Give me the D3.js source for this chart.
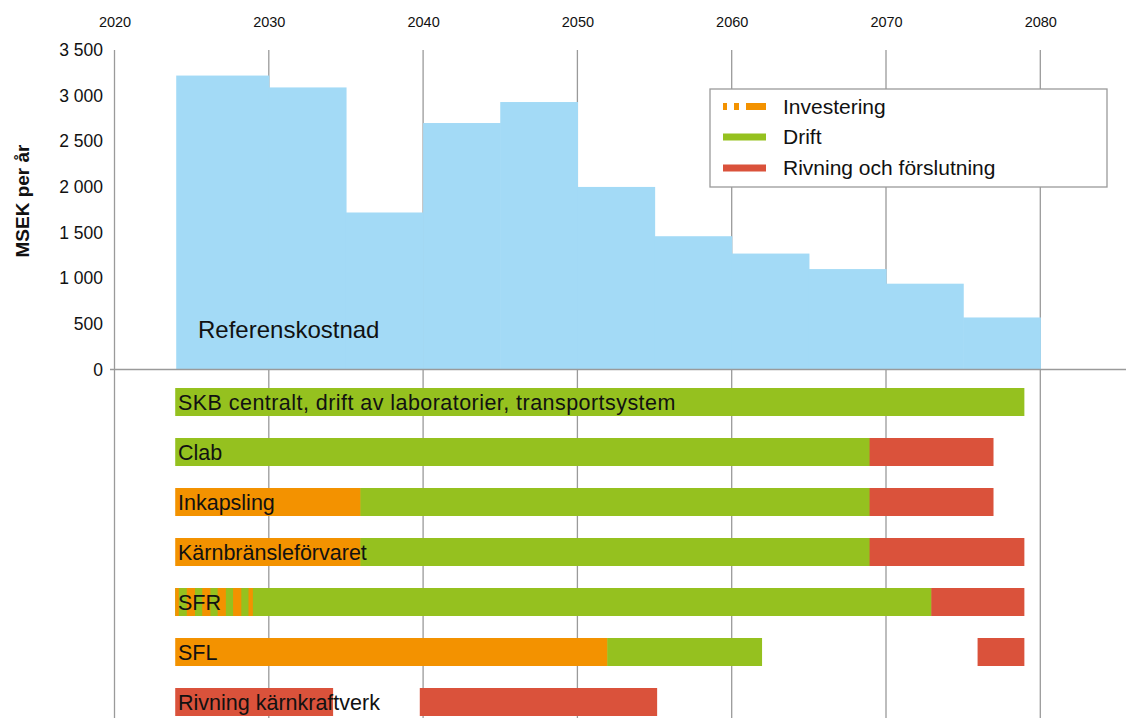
<!DOCTYPE html>
<html><head><meta charset="utf-8">
<script src="https://cdn.jsdelivr.net/npm/d3@7"></script>
<style>
html,body{margin:0;padding:0;background:#fff;}
svg{display:block;font-family:"Liberation Sans",Arial,sans-serif;}
</style></head>
<body>
<svg id="chart" width="1126" height="718"></svg>
<script>
// ---- data ----
const yearTicks = [2020, 2030, 2040, 2050, 2060, 2070, 2080];
const costTicks = [0, 500, 1000, 1500, 2000, 2500, 3000, 3500];
const refFrom = [2024, 2030, 2035, 2040, 2045, 2050, 2055, 2060, 2065, 2070, 2075];
const refTo   = [2030, 2035, 2040, 2045, 2050, 2055, 2060, 2065, 2070, 2075, 2080];
const refCost = [3220, 3090, 1720, 2700, 2930, 2000, 1460, 1270, 1100, 940, 570];

const activities = ["SKB centralt, drift av laboratorier, transportsystem", "Clab", "Inkapsling",
  "Kärnbränsleförvaret", "SFR", "SFL", "Rivning kärnkraftverk"];
const phases = ["Investering", "Drift", "Rivning och förslutning"];
// segments: activity index, from, to, phase index
const segActivity = [0, 1, 1, 2, 2, 2, 3, 3, 3, 4, 4, 4, 4, 4, 4, 4, 4, 5, 5, 5, 6, 6];
const segFrom = [2024, 2024, 2069, 2024, 2036, 2069, 2024, 2036, 2069, 2024, 2073, 2024, 2024.75, 2025.75, 2026.75, 2027.75, 2028.75, 2024, 2052, 2076, 2024, 2039.85];
const segTo   = [2079, 2069, 2077, 2036, 2069, 2077, 2036, 2069, 2079, 2073, 2079, 2024.2, 2025.25, 2026.25, 2027.25, 2028.25, 2029, 2052, 2062, 2079, 2034.2, 2055.2];
const segPhase = [1, 1, 2, 0, 1, 2, 0, 1, 2, 1, 2, 0, 0, 0, 0, 0, 0, 0, 1, 2, 2, 2];

const phaseColors = ["#f39200", "#95c11f", "#da523b"];
const refColor = "#a3daf6";

// ---- layout ----
const svg = d3.select("#chart");
const x = d3.scaleLinear().domain([2020, 2080]).range([114.5, 1040.3]);
const y = d3.scaleLinear().domain([0, 3500]).range([369.5, 50]);
const rowY = d3.scaleBand().domain(activities).range([377, 727]).paddingInner(0.44).paddingOuter(0.22);

// vertical gridlines
svg.append("g").selectAll("line").data(yearTicks).join("line")
  .attr("x1", d => x(d)).attr("x2", d => x(d))
  .attr("y1", y(3500)).attr("y2", 718)
  .attr("stroke", "#9a9a9a").attr("stroke-width", 1.3);

// reference cost steps
svg.append("g").selectAll("rect").data(refCost).join("rect")
  .attr("x", (d, i) => x(refFrom[i]))
  .attr("width", (d, i) => x(refTo[i]) - x(refFrom[i]) + 0.6)
  .attr("y", d => y(d))
  .attr("height", d => y(0) - y(d))
  .attr("fill", refColor);

// baseline
svg.append("line").attr("x1", 110).attr("x2", 1126).attr("y1", y(0)).attr("y2", y(0))
  .attr("stroke", "#9a9a9a").attr("stroke-width", 1.3);

// top year axis
const xAxis = d3.axisTop(x).tickValues(yearTicks).tickFormat(d3.format("d")).tickSize(0).tickPadding(0);
const gx = svg.append("g").attr("transform", "translate(0,27)").call(xAxis);
gx.select(".domain").remove();
gx.selectAll("text").attr("font-size", 14.5).attr("fill", "#111").attr("font-family", "Liberation Sans, Arial, sans-serif");

// left cost axis
const fmt = d => d3.format(",")(d).replace(/,/g, " ");
const yAxis = d3.axisLeft(y).tickValues(costTicks).tickFormat(fmt).tickSize(0).tickPadding(0);
const gy = svg.append("g").attr("transform", "translate(103,0)").call(yAxis);
gy.select(".domain").remove();
gy.selectAll("text").attr("font-size", 17.5).attr("fill", "#111").attr("font-family", "Liberation Sans, Arial, sans-serif");

// y title
svg.append("text").attr("transform", "translate(29,201) rotate(-90)")
  .attr("text-anchor", "middle").attr("font-size", 19).attr("font-weight", "bold").attr("fill", "#111")
  .text("MSEK per år");

// reference label
svg.append("text").attr("x", 198).attr("y", 338).attr("font-size", 24).attr("fill", "#111")
  .text("Referenskostnad");

// activity segments
svg.append("g").selectAll("rect").data(segActivity).join("rect")
  .attr("x", (d, i) => x(segFrom[i]) - 1)
  .attr("width", (d, i) => x(segTo[i]) - x(segFrom[i]) + 0.5)
  .attr("y", d => rowY(activities[d]))
  .attr("height", rowY.bandwidth())
  .attr("fill", (d, i) => phaseColors[segPhase[i]]);

// activity labels
svg.append("g").selectAll("text").data(activities).join("text")
  .attr("x", 178).attr("y", d => rowY(d) + 22)
  .attr("font-size", 21.5).attr("fill", "#111")
  .attr("letter-spacing", (d, i) => i === 0 ? 0.45 : 0)
  .text(d => d);

// legend
const lg = svg.append("g");
lg.append("rect").attr("x", 710).attr("y", 89).attr("width", 397).attr("height", 98)
  .attr("fill", "#fff").attr("stroke", "#9a9a9a").attr("stroke-width", 1.3);
const legRows = [106.5, 137, 168];
lg.append("line").attr("x1", 723).attr("x2", 766).attr("y1", legRows[0]).attr("y2", legRows[0])
  .attr("stroke", phaseColors[0]).attr("stroke-width", 7).attr("stroke-dasharray", "4,7,5,7,21");
lg.selectAll("line.solid").data([1, 2]).join("line").attr("class", "solid")
  .attr("x1", 723).attr("x2", 766).attr("y1", d => legRows[d]).attr("y2", d => legRows[d])
  .attr("stroke", d => phaseColors[d]).attr("stroke-width", 7);
lg.selectAll("text").data(phases).join("text")
  .attr("x", 783).attr("y", (d, i) => legRows[i] + 7)
  .attr("font-size", 21).attr("fill", "#111").text(d => d);
</script>
</body></html>
